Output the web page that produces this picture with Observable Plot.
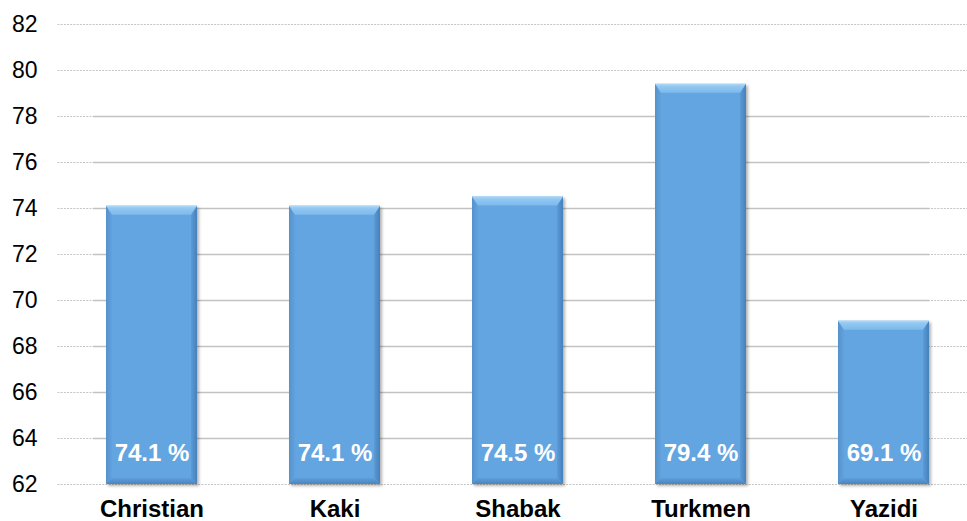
<!DOCTYPE html>
<html>
<head>
<meta charset="utf-8">
<script src="https://cdn.jsdelivr.net/npm/d3@7"></script>
<script src="https://cdn.jsdelivr.net/npm/@observablehq/plot@0.6"></script>
<style>
  html, body { margin: 0; padding: 0; background: #ffffff; }
  #chart svg { display: block; }
</style>
</head>
<body>
<div id="chart"></div>
<script>
// Share of respondents by community (%)
const categories = ["Christian", "Kaki", "Shabak", "Turkmen", "Yazidi"];
const values = [74.1, 74.1, 74.5, 79.4, 69.1];
const yTicks = [62, 64, 66, 68, 70, 72, 74, 76, 78, 80, 82];
// gridlines drawn solid across the bar area
const solidTicks = [64, 66, 68, 70, 72, 74, 76, 78];

const rows = categories.map((group, i) => ({group, value: values[i]}));

const font = "'Liberation Sans', Arial, Helvetica, sans-serif";

const plot = Plot.plot({
  width: 967,
  height: 521,
  marginTop: 24,
  marginBottom: 37,
  marginLeft: 57.5,
  marginRight: 0,
  style: {fontFamily: font, fontSize: "23px", color: "#000", background: "transparent"},
  x: {
    domain: categories,
    range: [57.5, 977.5],
    paddingInner: 0.505,
    paddingOuter: 0.2527,
    label: null,
    axis: null
  },
  y: {
    domain: [62, 82],
    label: null,
    axis: null
  },
  marks: [
    // dotted gridlines over the full width
    Plot.ruleY(yTicks, {stroke: "#c4c4c4", strokeWidth: 1, strokeDasharray: "2,1.2"}),
    // solid gridlines behind the bars
    Plot.ruleY(solidTicks, {stroke: "#c2c2c2", strokeWidth: 1.4, insetLeft: 35.5, insetRight: 37.5}),
    Plot.axisY({
      ticks: yTicks,
      tickSize: 0,
      tickPadding: 20.5,
      tickFormat: d => String(d),
      label: null,
      fontSize: 23
    }),
    Plot.axisX({
      tickSize: 0,
      tickPadding: 15,
      label: null,
      fontSize: 24,
      fontWeight: "bold"
    }),
    Plot.barY(rows, {
      x: "group",
      y1: 62,
      y2: "value",
      fill: "#64a5e1"
    }),
    Plot.text(rows, {
      x: "group",
      text: d => `${d.value.toFixed(1)} %`,
      frameAnchor: "bottom",
      dy: -24,
      fill: "#ffffff",
      fontWeight: "bold",
      fontSize: 24
    })
  ]
});

// Bevel shading and soft shadow for each bar
const ns = "http://www.w3.org/2000/svg";
const defs = document.createElementNS(ns, "defs");
defs.innerHTML = `
  <linearGradient id="bevelTop" x1="0" y1="0" x2="0" y2="1">
    <stop offset="0" stop-color="#b4dbf8"/>
    <stop offset="0.25" stop-color="#93c9f2"/>
    <stop offset="1" stop-color="#7db9ec"/>
  </linearGradient>
  <linearGradient id="bevelLeft" x1="0" y1="0" x2="1" y2="0">
    <stop offset="0" stop-color="#5592cb"/>
    <stop offset="1" stop-color="#62a2de"/>
  </linearGradient>
  <linearGradient id="bevelRight" x1="0" y1="0" x2="1" y2="0">
    <stop offset="0" stop-color="#5c9bd6"/>
    <stop offset="1" stop-color="#4481bc"/>
  </linearGradient>
  <linearGradient id="bevelBottom" x1="0" y1="0" x2="0" y2="1">
    <stop offset="0" stop-color="#5e9ed9"/>
    <stop offset="1" stop-color="#4a86c0"/>
  </linearGradient>
  <filter id="barShadow" x="-10%" y="-10%" width="125%" height="125%">
    <feDropShadow dx="2" dy="2" stdDeviation="1.8" flood-color="#000" flood-opacity="0.3"/>
  </filter>`;
plot.insertBefore(defs, plot.firstChild);

const barGroup = plot.querySelector('g[aria-label="bar"]');
if (barGroup) {
  barGroup.setAttribute("filter", "url(#barShadow)");
  barGroup.querySelectorAll("rect").forEach(r => {
    const x = +r.getAttribute("x"), y = +r.getAttribute("y");
    const w = +r.getAttribute("width"), h = +r.getAttribute("height");
    const bt = 9, bs = 6, bb = 6;
    const g = document.createElementNS(ns, "g");
    const poly = (pts, fill) => {
      const p = document.createElementNS(ns, "polygon");
      p.setAttribute("points", pts.map(q => q.join(",")).join(" "));
      p.setAttribute("fill", fill);
      g.appendChild(p);
    };
    poly([[x, y], [x + bs, y + bt], [x + bs, y + h - bb], [x, y + h]], "url(#bevelLeft)");
    poly([[x + w, y], [x + w, y + h], [x + w - bs, y + h - bb], [x + w - bs, y + bt]], "url(#bevelRight)");
    poly([[x, y + h], [x + bs, y + h - bb], [x + w - bs, y + h - bb], [x + w, y + h]], "url(#bevelBottom)");
    poly([[x, y], [x + w, y], [x + w - bs, y + bt], [x + bs, y + bt]], "url(#bevelTop)");
    r.after(g);
  });
}

document.getElementById("chart").appendChild(plot);
</script>
</body>
</html>
